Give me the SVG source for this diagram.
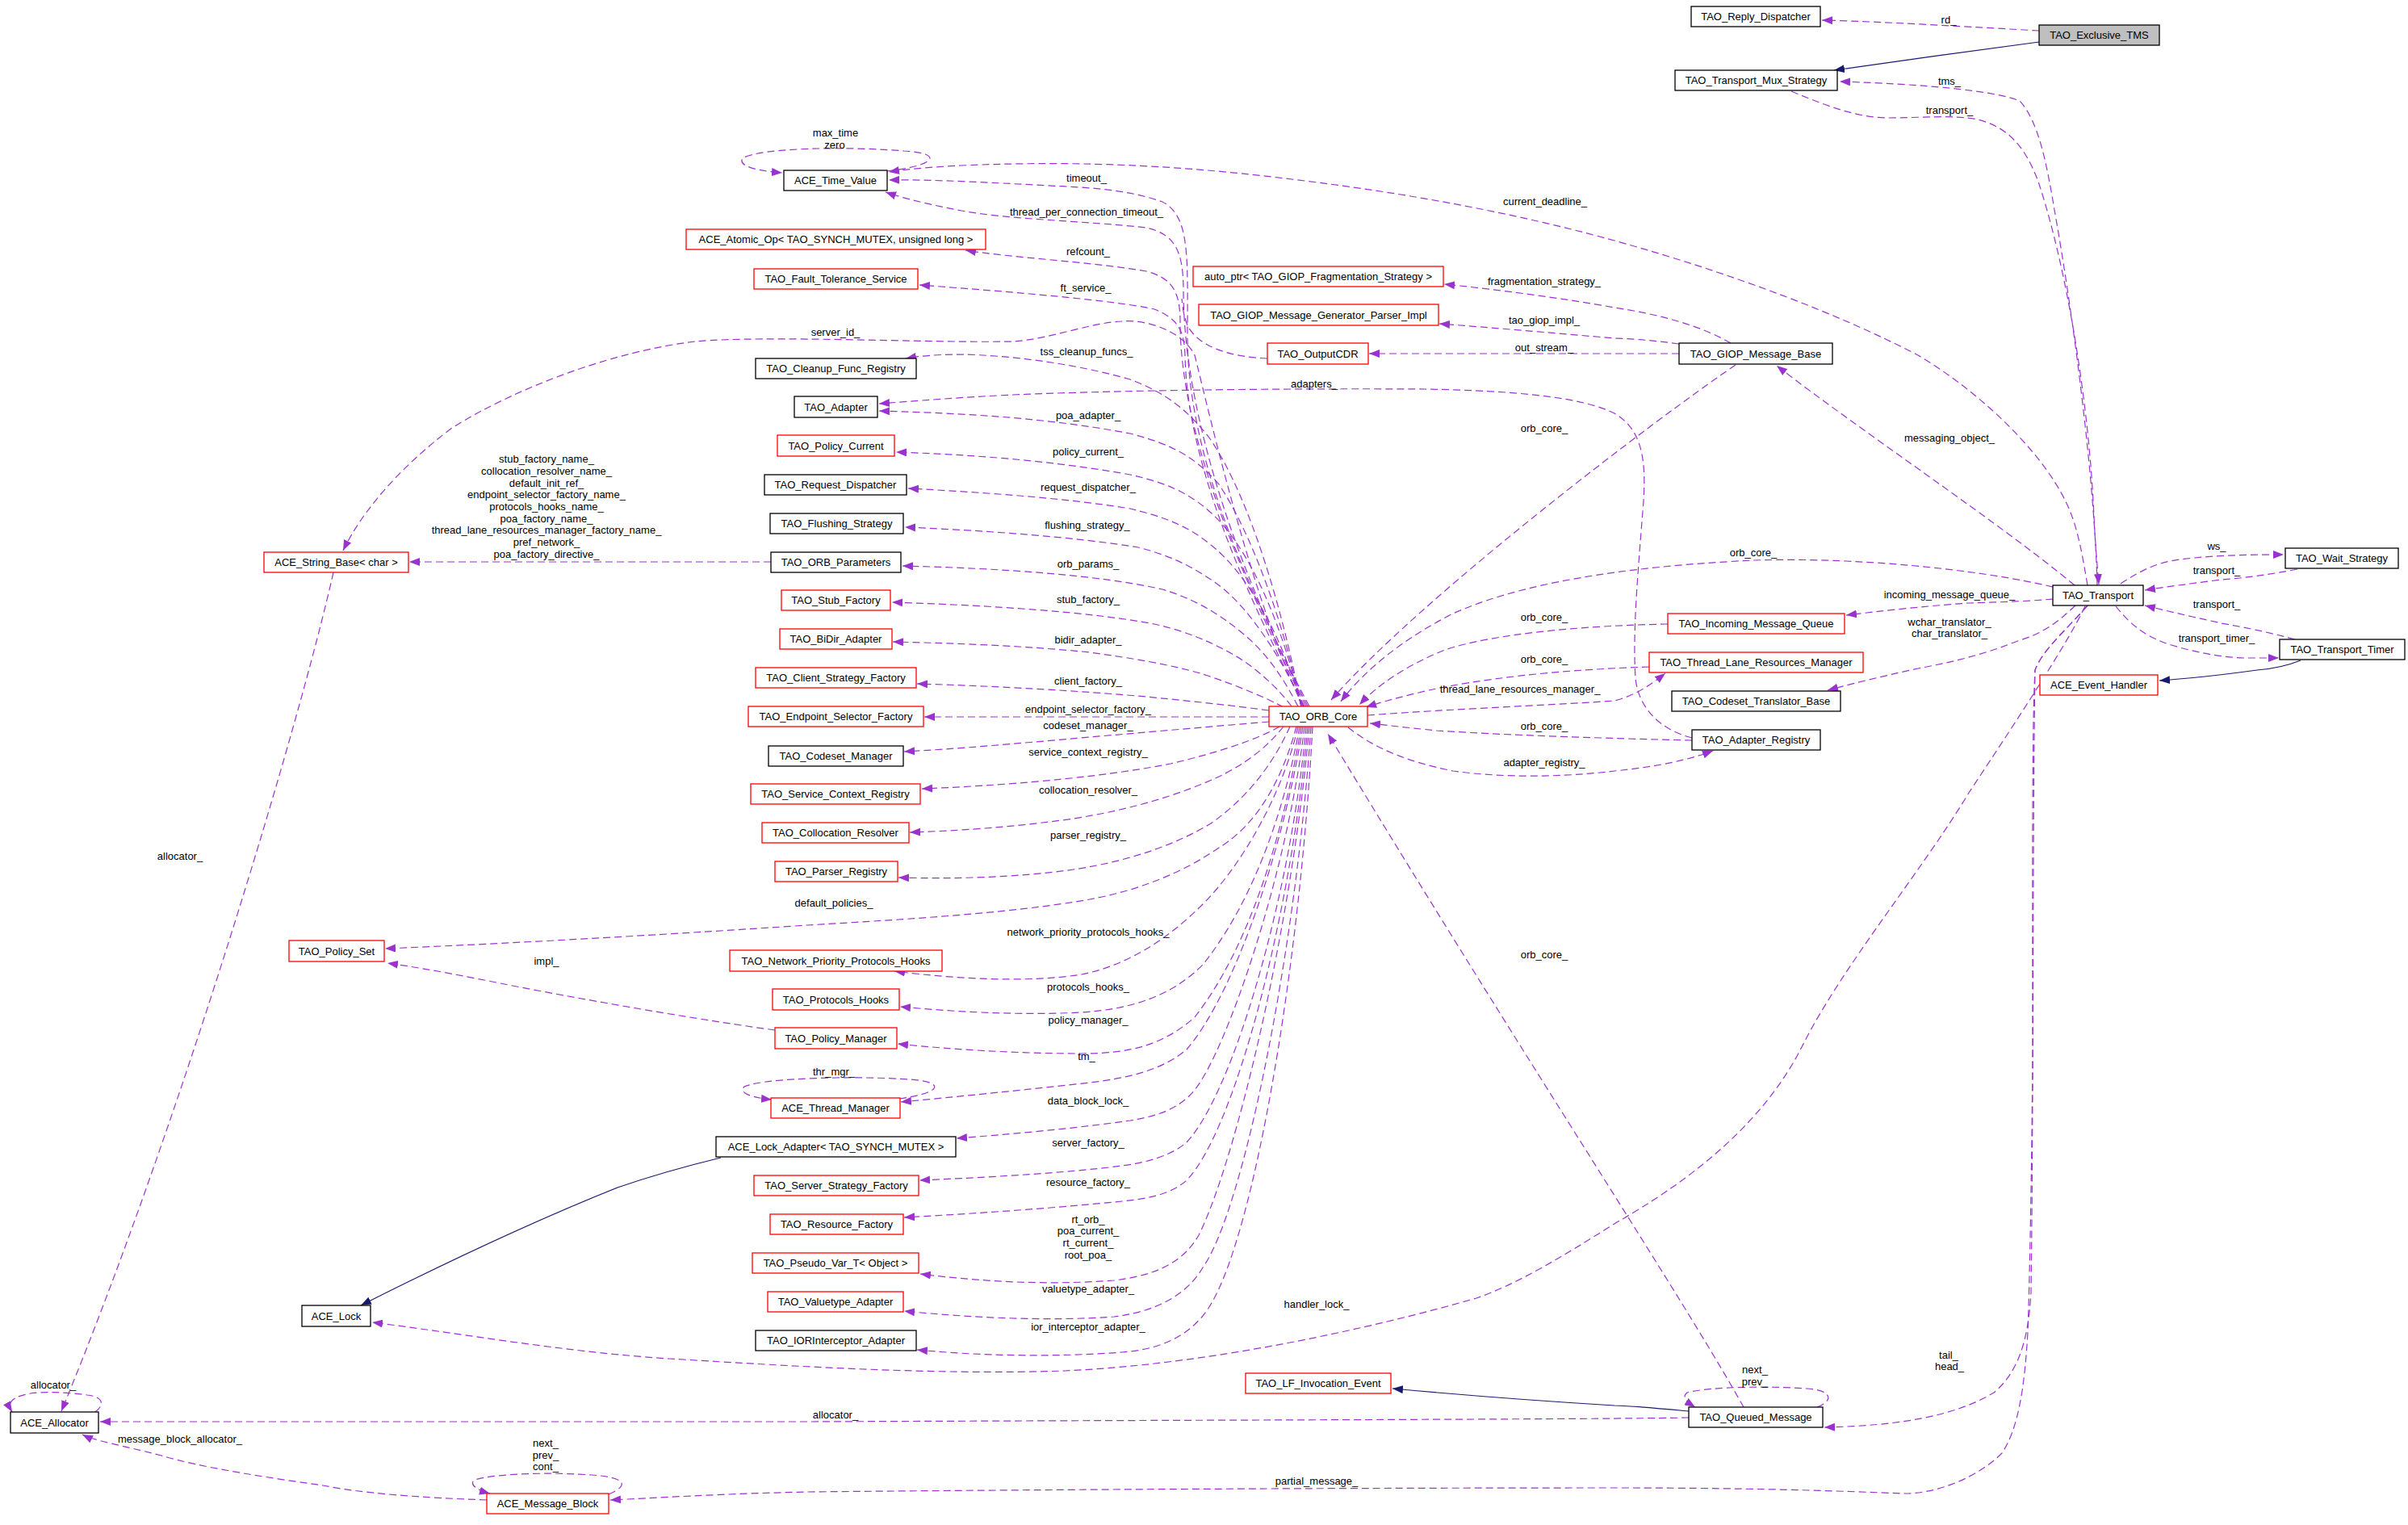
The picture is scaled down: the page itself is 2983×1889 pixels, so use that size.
<svg xmlns="http://www.w3.org/2000/svg" width="2983" height="1889" viewBox="0 0 2983 1889">
<style>
text{font-family:"Liberation Sans",Arial,sans-serif;font-size:13px;fill:#000}
.node rect{fill:#fff;stroke:#000;stroke-width:1.3}
.node.red rect{stroke:#f00}
.node text{text-anchor:middle}
.lab text{text-anchor:middle}
.edges path{fill:none;stroke:#9a32cd;stroke-width:1.2;stroke-dasharray:9,5;marker-end:url(#a)}
.edges path.inh{stroke:#191970;stroke-dasharray:none;marker-end:url(#b)}
.edges path.nm{marker-end:none}
</style>
<defs>
<marker id="a" markerUnits="userSpaceOnUse" markerWidth="14" markerHeight="10" refX="13" refY="5" orient="auto"><path d="M0,0 L13,5 L0,10 z" fill="#9a32cd"/></marker>
<marker id="b" markerUnits="userSpaceOnUse" markerWidth="14" markerHeight="10" refX="13" refY="5" orient="auto"><path d="M0,0 L13,5 L0,10 z" fill="#191970"/></marker>
</defs>
<rect width="2983" height="1889" fill="#fff"/>
<g id="connectors" class="edges">
<path d="M2526,38 C2450,34 2340,27 2257,25"/>
<path class="inh" d="M2526,52 C2450,62 2350,76 2272,87"/>
<path d="M2598,725 C2595,600 2570,400 2545,260 C2535,200 2525,150 2502,125 C2470,112 2380,104 2279,101"/>
<path d="M2219,113 C2260,130 2300,146 2339,146 C2380,146 2420,142 2450,148 C2490,158 2510,185 2525,225 C2560,330 2588,500 2594,640 C2596,680 2598,700 2600,724"/>
<path d="M2586,725 C2580,690 2575,660 2565,635 C2540,570 2460,490 2376,440 C2280,390 2150,340 2000,298 C1880,265 1750,240 1600,222 C1480,207 1350,198 1191,205 C1150,207 1120,210 1101,213"/>
<path d="M1099,212 C1160,205 1170,190 1120,187 C1050,181 940,183 920,196 C913,206 940,212 969,214"/>
<path d="M1622,875 C1540,720 1472,560 1471,420 C1471,320 1475,268 1440,250 C1400,236 1360,233 1320,231 C1240,227 1160,222 1101,223"/>
<path d="M1620,875 C1540,720 1466,520 1466,360 C1466,310 1455,290 1420,282 C1350,274 1250,272 1191,261 C1150,253 1120,246 1097,238"/>
<path d="M1618,875 C1540,720 1462,540 1462,400 C1462,365 1455,345 1420,336 C1350,324 1260,320 1196,310"/>
<path d="M1616,875 C1540,730 1470,570 1468,440 C1467,410 1460,395 1430,383 C1380,372 1260,362 1139,353"/>
<path class="nm" d="M1570,444 C1520,442 1485,428 1472,405 C1466,392 1465,380 1464,370"/>
<path d="M1614,875 C1550,740 1500,520 1480,440 C1465,410 1420,395 1389,398 C1350,400 1300,420 1255,423 C1150,425 950,415 861,423 C760,435 640,480 560,530 C500,575 450,630 425,682"/>
<path d="M1612,875 C1590,760 1550,620 1500,545 C1470,505 1440,485 1400,470 C1330,450 1250,440 1191,439 C1160,439 1140,441 1122,444"/>
<path d="M2096,914 C2060,905 2030,880 2026,840 C2022,780 2030,700 2036,620 C2040,560 2030,530 2000,512 C1960,492 1880,484 1765,482 C1600,481 1400,483 1255,489 C1190,492 1130,497 1089,500"/>
<path d="M1612,875 C1590,770 1550,660 1510,600 C1480,565 1450,550 1400,537 C1300,518 1200,512 1089,509"/>
<path d="M1612,875 C1590,780 1550,680 1500,635 C1470,608 1440,597 1400,588 C1300,570 1200,563 1110,560"/>
<path d="M1612,875 C1590,790 1545,710 1500,675 C1470,650 1440,640 1400,630 C1320,617 1220,610 1125,605"/>
<path d="M1615,875 C1590,820 1550,755 1510,725 C1480,703 1450,688 1410,678 C1330,665 1220,657 1121,653"/>
<path d="M1608,875 C1590,840 1570,810 1540,785 C1510,760 1480,742 1440,730 C1360,712 1240,704 1118,701"/>
<path d="M1600,875 C1585,855 1560,830 1530,812 C1500,795 1470,782 1430,773 C1350,758 1230,750 1105,746"/>
<path d="M1590,876 C1570,865 1530,848 1490,835 C1450,823 1400,815 1350,808 C1270,800 1190,797 1106,795"/>
<path d="M1572,880 C1520,873 1470,868 1420,863 C1340,856 1240,850 1136,847"/>
<path d="M1572,888 L1145,888"/>
<path d="M1572,894 C1500,900 1420,907 1350,913 C1260,921 1180,928 1120,931"/>
<path d="M1585,900 C1560,915 1510,932 1450,946 C1380,960 1270,972 1142,977"/>
<path d="M1590,900 C1570,925 1545,945 1510,962 C1460,985 1400,1003 1330,1014 C1260,1024 1190,1029 1127,1031"/>
<path d="M1598,900 C1580,940 1550,985 1500,1020 C1450,1050 1390,1068 1330,1077 C1260,1087 1180,1089 1113,1087"/>
<path d="M1606,900 C1590,960 1560,1020 1510,1050 C1460,1085 1400,1105 1350,1114 C1250,1132 1100,1140 1000,1146 C850,1156 650,1168 477,1175"/>
<path d="M1608,900 C1590,980 1540,1070 1490,1120 C1450,1160 1400,1195 1340,1207 C1270,1218 1180,1212 1108,1203"/>
<path d="M1610,900 C1590,1010 1550,1120 1490,1195 C1450,1235 1400,1250 1340,1254 C1260,1258 1180,1253 1115,1247"/>
<path d="M1612,900 C1590,1030 1550,1170 1480,1260 C1440,1295 1400,1305 1340,1305 C1260,1305 1180,1300 1112,1293"/>
<path d="M1614,900 C1590,1050 1530,1230 1470,1300 C1440,1325 1400,1335 1350,1341 C1270,1350 1190,1358 1116,1365"/>
<path d="M1114,1361 C1170,1353 1170,1340 1127,1337 C1070,1333 950,1334 922,1346 C914,1355 935,1360 956,1362"/>
<path d="M1616,900 C1595,1080 1520,1300 1480,1350 C1460,1375 1430,1383 1400,1388 C1330,1398 1250,1405 1185,1410"/>
<path d="M1618,900 C1600,1100 1530,1350 1470,1415 C1450,1432 1420,1440 1390,1444 C1320,1453 1230,1458 1139,1462"/>
<path d="M1620,900 C1600,1130 1530,1400 1470,1462 C1450,1480 1420,1485 1390,1488 C1300,1497 1210,1503 1120,1508"/>
<path d="M1622,900 C1600,1150 1530,1440 1485,1530 C1465,1565 1430,1580 1380,1586 C1300,1592 1220,1588 1140,1578"/>
<path d="M1624,900 C1605,1180 1540,1500 1490,1570 C1470,1605 1430,1625 1380,1631 C1300,1637 1200,1632 1120,1624"/>
<path d="M1626,900 C1610,1200 1550,1560 1490,1630 C1465,1660 1430,1672 1390,1675 C1310,1681 1220,1680 1136,1672"/>
<path d="M2144,425 C2110,405 2060,390 2000,381 C1940,370 1850,358 1789,352"/>
<path d="M2080,426 C2050,422 2030,420 2000,419 C1930,413 1850,406 1783,401"/>
<path d="M2080,438 L1696,438"/>
<path d="M2150,452 C2050,520 1760,740 1649,867"/>
<path d="M2570,725 C2480,650 2300,530 2201,453"/>
<path d="M2543,727 C2450,705 2300,690 2172,694 C2050,700 1900,715 1800,760 C1740,790 1690,830 1661,869"/>
<path d="M2066,773 C1960,775 1850,785 1790,805 C1740,825 1705,850 1684,873"/>
<path d="M2043,826 C1920,830 1830,842 1770,855 C1735,863 1710,870 1692,876"/>
<path d="M1694,886 C1800,878 1950,872 2000,868 C2025,862 2045,848 2063,834"/>
<path d="M2096,917 C2000,915 1850,910 1780,905 C1740,901 1715,898 1697,896"/>
<path d="M1670,901 C1700,925 1740,943 1800,955 C1880,966 1960,960 2000,955 C2050,950 2090,942 2122,930"/>
<path d="M2160,1743 C2080,1600 1900,1330 1645,909"/>
<path d="M2627,723 C2650,708 2670,697 2700,693 C2740,688 2780,687 2829,687"/>
<path d="M2846,705 C2810,712 2780,716 2752,718 C2720,722 2690,726 2657,731"/>
<path d="M2843,792 C2810,783 2780,777 2752,772 C2720,765 2690,758 2657,750"/>
<path d="M2621,751 C2640,775 2660,790 2690,799 C2720,808 2750,814 2780,815 L2823,815"/>
<path class="inh" d="M2850,818 C2830,826 2810,829 2796,830 C2760,835 2720,840 2675,843"/>
<path d="M2543,742 C2510,745 2470,746 2439,747 C2380,751 2330,757 2287,762"/>
<path d="M2571,750 C2550,770 2530,785 2502,793 C2460,810 2420,820 2376,828 C2330,838 2290,848 2264,855"/>
<path d="M2583,751 C2560,800 2480,920 2439,982 C2380,1080 2280,1200 2232,1297 C2180,1400 2080,1470 2003,1514 C1930,1560 1880,1590 1829,1608 C1700,1645 1500,1690 1319,1698 C1150,1704 950,1690 829,1683 C700,1675 560,1650 461,1638"/>
<path d="M2586,750 C2560,780 2530,805 2521,830 C2517,900 2518,1100 2518,1300 C2517,1450 2514,1600 2512,1650 C2508,1720 2500,1770 2480,1800 C2450,1830 2400,1850 2360,1850 C2300,1848 2200,1843 2000,1843 C1800,1843 1400,1844 1000,1848 C900,1850 800,1856 756,1858"/>
<path d="M2586,750 C2560,780 2530,805 2521,830 C2518,1000 2519,1400 2516,1600 C2513,1660 2500,1700 2470,1725 C2420,1755 2350,1766 2260,1768"/>
<path d="M2092,1756 C2000,1758 1500,1759 1000,1761 L124,1761"/>
<path class="inh" d="M2092,1748 C2060,1745 2030,1742 2000,1741 C1900,1735 1800,1727 1725,1720"/>
<path d="M2251,1743 C2272,1735 2270,1722 2238,1720 C2200,1717 2120,1717 2090,1725 C2082,1731 2092,1738 2100,1743"/>
<path d="M754,1851 C780,1840 776,1830 733,1827 C690,1824 620,1824 588,1833 C580,1839 592,1846 607,1850"/>
<path d="M603,1858 C520,1855 450,1850 400,1840 C330,1830 250,1818 200,1803 C150,1790 118,1785 102,1777"/>
<path d="M118,1749 C130,1740 128,1730 108,1728 C80,1724 50,1724 38,1726 C15,1730 8,1737 15,1749"/>
<path d="M413,709 C370,900 220,1400 76,1748"/>
<path d="M960,1276 C880,1265 760,1245 640,1222 C580,1210 530,1200 480,1193"/>
<path d="M955,696 L507,696"/>
<path class="inh" d="M893,1434 C860,1442 820,1452 765,1471 C680,1505 560,1560 447,1617"/>
</g>
<g id="edge-labels" class="lab">
<text x="2414" y="29">rd_</text>
<text x="2415" y="105">tms_</text>
<text x="2415" y="141">transport_</text>
<text x="1035" y="169">max_time</text>
<text x="1034" y="184">zero</text>
<text x="1346" y="225">timeout_</text>
<text x="1346" y="267">thread_per_connection_timeout_</text>
<text x="1914" y="254">current_deadline_</text>
<text x="1348" y="316">refcount_</text>
<text x="1345" y="361">ft_service_</text>
<text x="1913" y="353">fragmentation_strategy_</text>
<text x="1913" y="401">tao_giop_impl_</text>
<text x="1913" y="435">out_stream_</text>
<text x="1035" y="416">server_id_</text>
<text x="1346" y="440">tss_cleanup_funcs_</text>
<text x="1628" y="480">adapters_</text>
<text x="1913" y="535">orb_core_</text>
<text x="2415" y="547">messaging_object_</text>
<text x="1348" y="519">poa_adapter_</text>
<text x="1348" y="564">policy_current_</text>
<text x="1348" y="608">request_dispatcher_</text>
<text x="1347" y="655">flushing_strategy_</text>
<text x="677" y="573">stub_factory_name_</text>
<text x="677" y="588">collocation_resolver_name_</text>
<text x="677" y="603">default_init_ref_</text>
<text x="677" y="617">endpoint_selector_factory_name_</text>
<text x="677" y="632">protocols_hooks_name_</text>
<text x="677" y="647">poa_factory_name_</text>
<text x="677" y="661">thread_lane_resources_manager_factory_name_</text>
<text x="677" y="676">pref_network_</text>
<text x="677" y="691">poa_factory_directive_</text>
<text x="1348" y="703">orb_params_</text>
<text x="1348" y="747">stub_factory_</text>
<text x="1348" y="797">bidir_adapter_</text>
<text x="1348" y="848">client_factory_</text>
<text x="1348" y="883">endpoint_selector_factory_</text>
<text x="1348" y="903">codeset_manager_</text>
<text x="1348" y="936">service_context_registry_</text>
<text x="1348" y="983">collocation_resolver_</text>
<text x="1348" y="1039">parser_registry_</text>
<text x="1033" y="1123">default_policies_</text>
<text x="1348" y="1159">network_priority_protocols_hooks_</text>
<text x="677" y="1195">impl_</text>
<text x="1348" y="1227">protocols_hooks_</text>
<text x="1348" y="1268">policy_manager_</text>
<text x="1346" y="1313">tm_</text>
<text x="1033" y="1332">thr_mgr_</text>
<text x="1348" y="1368">data_block_lock_</text>
<text x="1348" y="1420">server_factory_</text>
<text x="1348" y="1469">resource_factory_</text>
<text x="1348" y="1515">rt_orb_</text>
<text x="1348" y="1529">poa_current_</text>
<text x="1348" y="1544">rt_current_</text>
<text x="1348" y="1559">root_poa_</text>
<text x="1348" y="1601">valuetype_adapter_</text>
<text x="1348" y="1648">ior_interceptor_adapter_</text>
<text x="1631" y="1620">handler_lock_</text>
<text x="1035" y="1757">allocator_</text>
<text x="1631" y="1839">partial_message_</text>
<text x="223" y="1065">allocator_</text>
<text x="66" y="1720">allocator_</text>
<text x="223" y="1787">message_block_allocator_</text>
<text x="676" y="1792">next_</text>
<text x="676" y="1807">prev_</text>
<text x="676" y="1821">cont_</text>
<text x="2174" y="1701">next_</text>
<text x="2174" y="1716">prev_</text>
<text x="2414" y="1683">tail_</text>
<text x="2415" y="1697">head_</text>
<text x="2172" y="689">orb_core_</text>
<text x="1913" y="769">orb_core_</text>
<text x="1913" y="821">orb_core_</text>
<text x="1883" y="858">thread_lane_resources_manager_</text>
<text x="1913" y="904">orb_core_</text>
<text x="1913" y="949">adapter_registry_</text>
<text x="1913" y="1187">orb_core_</text>
<text x="2415" y="741">incoming_message_queue_</text>
<text x="2415" y="775">wchar_translator_</text>
<text x="2415" y="789">char_translator_</text>
<text x="2746" y="681">ws_</text>
<text x="2746" y="711">transport_</text>
<text x="2746" y="753">transport_</text>
<text x="2746" y="795">transport_timer_</text>
</g>
<g id="n_exclusive_tms" class="node"><rect x="2526" y="31" width="149" height="25" style="fill:#bfbfbf"/><text x="2600.5" y="48">TAO_Exclusive_TMS</text></g>
<g id="n_reply_dispatcher" class="node"><rect x="2095" y="8" width="160" height="25"/><text x="2175" y="25">TAO_Reply_Dispatcher</text></g>
<g id="n_mux_strategy" class="node"><rect x="2075" y="87" width="201" height="25"/><text x="2175.5" y="104">TAO_Transport_Mux_Strategy</text></g>
<g id="n_time_value" class="node"><rect x="971" y="211" width="128" height="25"/><text x="1035" y="228">ACE_Time_Value</text></g>
<g id="n_atomic_op" class="node red"><rect x="850" y="284" width="371" height="25"/><text x="1035.5" y="301">ACE_Atomic_Op&lt; TAO_SYNCH_MUTEX, unsigned long &gt;</text></g>
<g id="n_ft_service" class="node red"><rect x="934" y="333" width="203" height="25"/><text x="1035.5" y="350">TAO_Fault_Tolerance_Service</text></g>
<g id="n_auto_ptr" class="node red"><rect x="1478" y="330" width="310" height="25"/><text x="1633" y="347">auto_ptr&lt; TAO_GIOP_Fragmentation_Strategy &gt;</text></g>
<g id="n_giop_impl" class="node red"><rect x="1485" y="377" width="297" height="26"/><text x="1633.5" y="394.5">TAO_GIOP_Message_Generator_Parser_Impl</text></g>
<g id="n_outputcdr" class="node red"><rect x="1570" y="425" width="125" height="26"/><text x="1632.5" y="442.5">TAO_OutputCDR</text></g>
<g id="n_giop_base" class="node"><rect x="2080" y="425" width="190" height="26"/><text x="2175" y="442.5">TAO_GIOP_Message_Base</text></g>
<g id="n_cleanup" class="node"><rect x="936" y="444" width="199" height="25"/><text x="1035.5" y="461">TAO_Cleanup_Func_Registry</text></g>
<g id="n_adapter" class="node"><rect x="984" y="491" width="103" height="26"/><text x="1035.5" y="508.5">TAO_Adapter</text></g>
<g id="n_policy_current" class="node red"><rect x="963" y="539" width="145" height="26"/><text x="1035.5" y="556.5">TAO_Policy_Current</text></g>
<g id="n_request_dispatcher" class="node"><rect x="947" y="588" width="176" height="25"/><text x="1035" y="605">TAO_Request_Dispatcher</text></g>
<g id="n_flushing" class="node"><rect x="954" y="636" width="165" height="25"/><text x="1036.5" y="653">TAO_Flushing_Strategy</text></g>
<g id="n_string_base" class="node red"><rect x="327" y="684" width="179" height="25"/><text x="416.5" y="701">ACE_String_Base&lt; char &gt;</text></g>
<g id="n_orb_params" class="node"><rect x="955" y="684" width="161" height="25"/><text x="1035.5" y="701">TAO_ORB_Parameters</text></g>
<g id="n_stub_factory" class="node red"><rect x="968" y="731" width="135" height="25"/><text x="1035.5" y="748">TAO_Stub_Factory</text></g>
<g id="n_bidir" class="node red"><rect x="966" y="779" width="139" height="25"/><text x="1035.5" y="796">TAO_BiDir_Adapter</text></g>
<g id="n_client_sf" class="node red"><rect x="936" y="827" width="199" height="25"/><text x="1035.5" y="844">TAO_Client_Strategy_Factory</text></g>
<g id="n_endpoint" class="node red"><rect x="927" y="875" width="217" height="25"/><text x="1035.5" y="892">TAO_Endpoint_Selector_Factory</text></g>
<g id="n_codeset_manager" class="node"><rect x="952" y="924" width="167" height="25"/><text x="1035.5" y="941">TAO_Codeset_Manager</text></g>
<g id="n_scr" class="node red"><rect x="930" y="971" width="210" height="25"/><text x="1035" y="988">TAO_Service_Context_Registry</text></g>
<g id="n_colloc" class="node red"><rect x="944" y="1019" width="182" height="25"/><text x="1035" y="1036">TAO_Collocation_Resolver</text></g>
<g id="n_parser" class="node red"><rect x="960" y="1067" width="152" height="25"/><text x="1036" y="1084">TAO_Parser_Registry</text></g>
<g id="n_policy_set" class="node red"><rect x="358" y="1165" width="118" height="26"/><text x="417" y="1182.5">TAO_Policy_Set</text></g>
<g id="n_npph" class="node red"><rect x="904" y="1177" width="263" height="26"/><text x="1035.5" y="1194.5">TAO_Network_Priority_Protocols_Hooks</text></g>
<g id="n_protocols_hooks" class="node red"><rect x="957" y="1225" width="157" height="26"/><text x="1035.5" y="1242.5">TAO_Protocols_Hooks</text></g>
<g id="n_policy_manager" class="node red"><rect x="960" y="1273" width="151" height="26"/><text x="1035.5" y="1290.5">TAO_Policy_Manager</text></g>
<g id="n_thread_manager" class="node red"><rect x="955" y="1360" width="160" height="25"/><text x="1035" y="1377">ACE_Thread_Manager</text></g>
<g id="n_lock_adapter" class="node"><rect x="887" y="1408" width="297" height="25"/><text x="1035.5" y="1425">ACE_Lock_Adapter&lt; TAO_SYNCH_MUTEX &gt;</text></g>
<g id="n_server_sf" class="node red"><rect x="934" y="1456" width="204" height="25"/><text x="1036" y="1473">TAO_Server_Strategy_Factory</text></g>
<g id="n_resource_factory" class="node red"><rect x="954" y="1504" width="165" height="25"/><text x="1036.5" y="1521">TAO_Resource_Factory</text></g>
<g id="n_pseudo_var" class="node red"><rect x="932" y="1552" width="206" height="25"/><text x="1035" y="1569">TAO_Pseudo_Var_T&lt; Object &gt;</text></g>
<g id="n_valuetype" class="node red"><rect x="951" y="1600" width="168" height="25"/><text x="1035" y="1617">TAO_Valuetype_Adapter</text></g>
<g id="n_ior" class="node"><rect x="936" y="1648" width="199" height="25"/><text x="1035.5" y="1665">TAO_IORInterceptor_Adapter</text></g>
<g id="n_ace_lock" class="node"><rect x="374" y="1617" width="85" height="26"/><text x="416.5" y="1634.5">ACE_Lock</text></g>
<g id="n_allocator" class="node"><rect x="13" y="1749" width="109" height="26"/><text x="67.5" y="1766.5">ACE_Allocator</text></g>
<g id="n_message_block" class="node red"><rect x="603" y="1850" width="151" height="25"/><text x="678.5" y="1867">ACE_Message_Block</text></g>
<g id="n_lf_event" class="node red"><rect x="1543" y="1701" width="180" height="25"/><text x="1633" y="1718">TAO_LF_Invocation_Event</text></g>
<g id="n_queued_message" class="node"><rect x="2092" y="1743" width="166" height="25"/><text x="2175" y="1760">TAO_Queued_Message</text></g>
<g id="n_orb_core" class="node red"><rect x="1572" y="875" width="122" height="25"/><text x="1633" y="892">TAO_ORB_Core</text></g>
<g id="n_transport" class="node"><rect x="2543" y="725" width="112" height="25"/><text x="2599" y="742">TAO_Transport</text></g>
<g id="n_wait_strategy" class="node"><rect x="2831" y="679" width="140" height="25"/><text x="2901" y="696">TAO_Wait_Strategy</text></g>
<g id="n_imq" class="node red"><rect x="2066" y="760" width="219" height="25"/><text x="2175.5" y="777">TAO_Incoming_Message_Queue</text></g>
<g id="n_tlrm" class="node red"><rect x="2043" y="808" width="265" height="25"/><text x="2175.5" y="825">TAO_Thread_Lane_Resources_Manager</text></g>
<g id="n_codeset_translator" class="node"><rect x="2071" y="856" width="209" height="25"/><text x="2175.5" y="873">TAO_Codeset_Translator_Base</text></g>
<g id="n_adapter_registry" class="node"><rect x="2096" y="904" width="159" height="25"/><text x="2175.5" y="921">TAO_Adapter_Registry</text></g>
<g id="n_transport_timer" class="node"><rect x="2824" y="792" width="155" height="25"/><text x="2901.5" y="809">TAO_Transport_Timer</text></g>
<g id="n_event_handler" class="node red"><rect x="2527" y="836" width="146" height="25"/><text x="2600" y="853">ACE_Event_Handler</text></g>
</svg>
